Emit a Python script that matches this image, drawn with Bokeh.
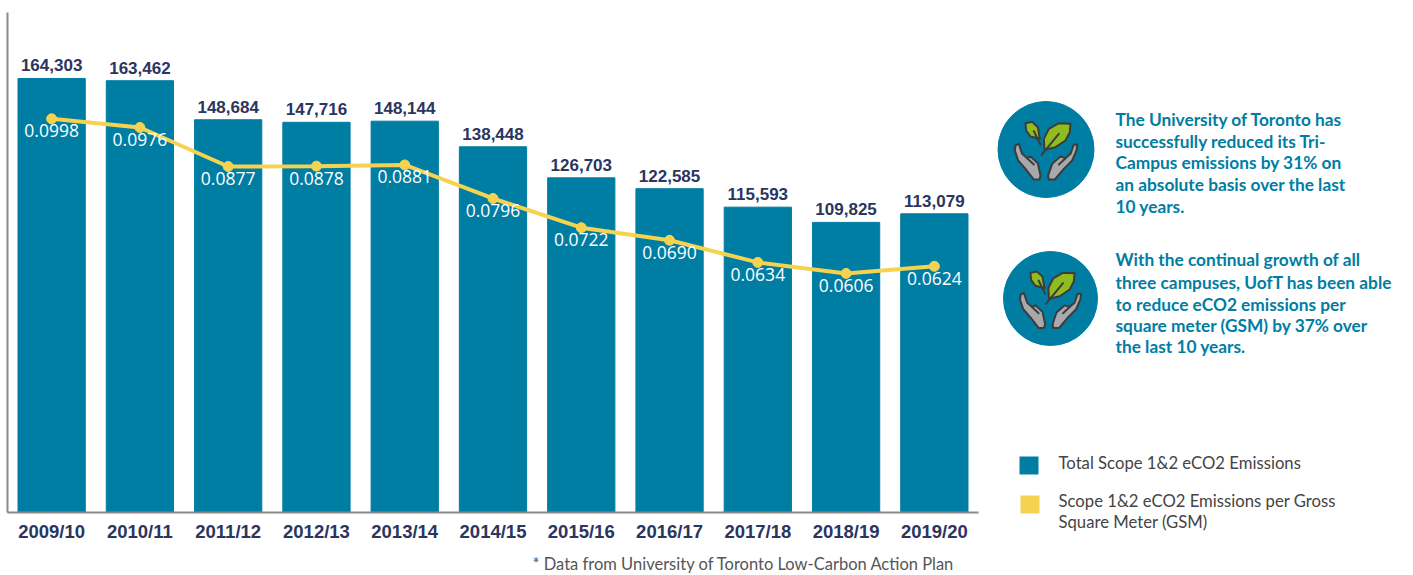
from bokeh.plotting import figure
from bokeh.layouts import row
from bokeh.embed import file_html
from bokeh.resources import INLINE
from bokeh.models import Range1d, Title, ColumnDataSource
from bokeh.core.properties import value

years = ["2009/10","2010/11","2011/12","2012/13","2013/14","2014/15","2015/16","2016/17","2017/18","2018/19","2019/20"]
emissions = [164303,163462,148684,147716,148144,138448,126703,122585,115593,109825,113079]
gsm = [0.0998,0.0976,0.0877,0.0878,0.0881,0.0796,0.0722,0.0690,0.0634,0.0606,0.0624]
gsm_labels = ["0.0998","0.0976","0.0877","0.0878","0.0881","0.0796","0.0722","0.0690","0.0634","0.0606","0.0624"]
note1 = ["The University of Toronto has","successfully reduced its Tri-","Campus emissions by 31% on","an absolute basis over the last","10 years."]
note2 = ["With the continual growth of all","three campuses, UofT has been able","to reduce eCO2 emissions per","square meter (GSM) by 37% over","the last 10 years."]
legend1 = ["Total Scope 1&2 eCO2 Emissions"]
legend2 = ["Scope 1&2 eCO2 Emissions per Gross","Square Meter (GSM)"]
footnote = "* Data from University of Toronto Low-Carbon Action Plan"

W, H = 1413, 575
TEAL, YEL, NAVY = "#007DA3", "#F5D350", "#2A3560"
LEFT, TOP, BASE, FW = 7, 12, 512, 971
W1 = 985
W2 = W - W1

p = figure(x_range=years, width=W1, height=H, output_backend="svg", toolbar_location=None,
           frame_width=FW, frame_height=BASE-TOP, min_border_left=LEFT, min_border_top=TOP,
           min_border_right=W1-LEFT-FW, min_border_bottom=H-BASE,
           y_range=Range1d(0, (BASE-TOP)/0.0026415), outline_line_color=None, frame_align=False)
p.x_range.range_padding = 0
p.x_range.factor_padding = 0
p.x_range.group_padding = 0
p.extra_y_ranges = {"gsm": Range1d(0, (BASE-TOP)/3945)}
p.grid.visible = False
p.yaxis.major_tick_line_color = None
p.yaxis.minor_tick_line_color = None
p.yaxis.major_label_text_font_size = "0px"
p.yaxis.major_label_text_color = None
p.yaxis.axis_line_color = "#8A8A8A"
p.yaxis.axis_line_width = 2
p.xaxis.axis_line_color = "#8A8A8A"
p.xaxis.axis_line_width = 2
p.xaxis.major_tick_line_color = None
p.xaxis.major_label_text_font = "Liberation Sans"
p.xaxis.major_label_text_font_style = "bold"
p.xaxis.major_label_text_font_size = "18.5px"
p.xaxis.major_label_text_color = NAVY
p.xaxis.major_label_standoff = 2
p.add_layout(Title(text=footnote, text_font="Lato", text_font_size="16.5px", text_font_style="normal",
                   text_color="#555555", align="left", offset=525, standoff=15), "below")

src = ColumnDataSource(dict(y=years, e=emissions, g=gsm, gl=gsm_labels, el=[f"{v:,}" for v in emissions]))
p.vbar(x="y", top="e", width=0.762, bottom=0, source=src, color=TEAL)
p.line(x="y", y="g", source=src, y_range_name="gsm", color=YEL, line_width=4)
p.scatter(x="y", y="g", source=src, y_range_name="gsm", color=YEL, size=10)
p.text(x="y", y="e", text="el", source=src, text_align="center", text_baseline="bottom", y_offset=-7,
       text_font=value("Liberation Sans"), text_font_style="bold", text_font_size="17px", text_color=NAVY)
p.text(x="y", y="g", text="gl", source=src, y_range_name="gsm", text_align="center", text_baseline="middle", y_offset=12,
       text_font=value("Open Sans"), text_font_size="17.5px", text_color="white")

# side panel: x and y run in page pixels
s = figure(width=W2, height=H, output_backend="svg", toolbar_location=None, x_range=Range1d(W1, W), y_range=Range1d(H, 0),
           min_border=0, outline_line_color=None, frame_align=False)
s.axis.visible = False
s.grid.visible = False

def label(x, y, t, color, size, style="normal"):
    s.text([x], [y], text=[t], text_color=color, text_font=value("Lato"), text_font_size=size,
           text_font_style=style, text_align="left", text_baseline="middle")

for ys, lines in (([119,141,162,184,206], note1), ([259,282,304,325,346], note2)):
    for y, t in zip(ys, lines):
        label(1115, y, t, TEAL, "17.3px", "bold")
for y, t in zip([462], legend1):
    label(1058, y, t, "#444444", "16.7px")
for y, t in zip([500,521], legend2):
    label(1058, y, t, "#444444", "16.7px")

def icon(cx, cy, r):
    s.circle([cx], [cy], radius=r, color=TEAL)
    k = r/48/3
    def t(lst):
        return [cx+(a-121.5)*k for a, b in lst], [cy+(b-117)*k for a, b in lst]
    def poly(lst, fill):
        xs, ys = t(lst)
        s.patch(xs, ys, fill_color=fill, line_color="#3C3C3C", line_width=2, line_join="round")
    def stem(lst):
        xs, ys = t(lst)
        s.line(xs, ys, line_color="#3C3C3C", line_width=2, line_cap="round")
    poly([(30,105),(40,100),(50,130),(65,143),(75,138),(97,158),(105,195),(102,207),(85,207),(60,175),(38,150),(28,120)], "#A7A9AC")
    poly([(215,103),(205,102),(195,130),(180,143),(165,138),(140,160),(128,195),(130,207),(148,207),(175,175),(200,150),(213,120)], "#A7A9AC")
    stem([(65,143),(85,162)])
    stem([(180,143),(160,162)])
    poly([(195,40),(160,38),(130,55),(115,85),(117,118),(150,110),(180,90),(193,65)], "#8FBC1E")
    poly([(60,38),(80,34),(97,50),(103,85),(75,78),(62,60)], "#8FBC1E")
    stem([(108,133),(160,70)])
    stem([(105,102),(85,62)])

icon(1045.5, 149, 48)
icon(1050, 298, 47)

s.quad(left=[1019,1020], right=[1038,1039], top=[456,495], bottom=[474,513], fill_color=[TEAL,YEL], line_color=None)

open("out.html", "w").write(file_html(row(p, s, spacing=0), INLINE))
